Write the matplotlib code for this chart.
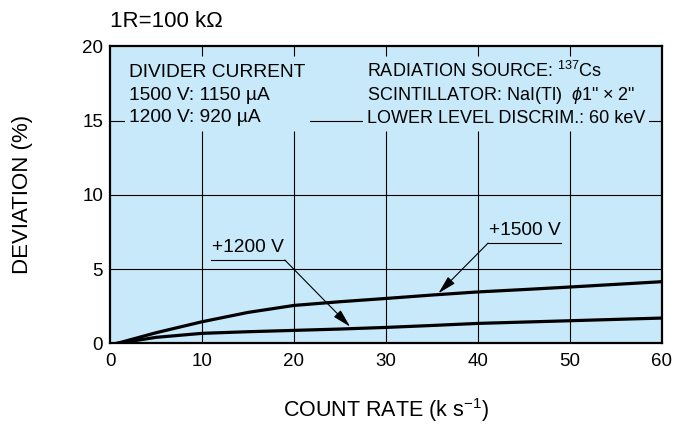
#!/usr/bin/env python3
"""
Deviation vs count rate for a PMT divider (1R = 100 kOhm), two supply voltages.
Writes out.png (673x430).
"""
import matplotlib
matplotlib.use("Agg")
import matplotlib.pyplot as plt

plt.rcParams["font.family"] = ["Liberation Sans", "DejaVu Sans"]
plt.rcParams["mathtext.fontset"] = "custom"
plt.rcParams["mathtext.rm"] = "Liberation Sans"
plt.rcParams["mathtext.it"] = "Liberation Sans:italic"

OUT = "out.png"
BG = "#c7e9f9"

# values
count_rate = [0.8, 5, 10, 15, 20, 25, 30, 35, 40, 45, 50, 55, 60]
dev_1500 = [0.0, 0.71, 1.45, 2.08, 2.55, 2.80, 3.02, 3.25, 3.46, 3.62, 3.79, 3.97, 4.15]
dev_1200 = [0.0, 0.40, 0.67, 0.78, 0.87, 0.96, 1.07, 1.20, 1.34, 1.43, 1.52, 1.61, 1.70]

x_ticks = [0, 10, 20, 30, 40, 50, 60]
y_ticks = [0, 5, 10, 15, 20]

left_note = "DIVIDER CURRENT\n1500 V: 1150 \u00b5A\n1200 V: 920 \u00b5A"
right_lines = ["RADIATION SOURCE: $^{137}$Cs",
               "SCINTILLATOR: NaI(Tl)  $\\phi$1\" \u00d7 2\"",
               "LOWER LEVEL DISCRIM.: 60 keV"]
right_baselines = [17.93, 16.38, 14.83]

FS = 13.8


def label_curve(ax, text, x0, x1, y, start, tip):
    # underlined label with a leader arrow to the curve
    ax.text((x0 + x1) / 2, y + 0.25, text, ha="center", va="bottom", fontsize=FS)
    ax.plot([x0, x1], [y, y], color="black", lw=0.8, zorder=4)
    ax.annotate("", xy=tip, xytext=start,
                arrowprops=dict(arrowstyle="-|>,head_length=0.7,head_width=0.18",
                                lw=0.8, color="black", shrinkA=0, shrinkB=0,
                                mutation_scale=16), zorder=4)


def main():
    fig = plt.figure(figsize=(6.73, 4.30), dpi=100)
    ax = fig.add_axes([110 / 673, 1 - 343.3 / 430, 552 / 673, 297 / 430])
    ax.set_facecolor(BG)
    ax.set_xlim(0, 60)
    ax.set_ylim(0, 20)

    # grid: horizontals full width, verticals stop just under the 15 line
    for y in y_ticks[1:-1]:
        ax.axhline(y, color="black", lw=0.8, zorder=1)
    ax.vlines(x_ticks[1:-1], 0, 14.3, color="black", lw=0.8, zorder=1)

    ax.plot(count_rate, dev_1500, color="black", lw=2.3, zorder=3)
    ax.plot(count_rate, dev_1200, color="black", lw=2.3, zorder=3)

    ax.set_xticks(x_ticks)
    ax.set_yticks(y_ticks)
    ax.tick_params(axis="both", length=0, labelsize=13.5)
    ax.tick_params(axis="x", pad=7)
    ax.tick_params(axis="y", pad=5)
    top = ax.secondary_xaxis("top")
    top.set_xticks(x_ticks[1:-1])
    top.tick_params(direction="in", length=7.5, width=0.8, labeltop=False)
    top.spines["top"].set_visible(False)
    for sp in ax.spines.values():
        sp.set_linewidth(1.6)
        sp.set_zorder(5)

    bbox = dict(facecolor=BG, edgecolor="none", pad=3)
    ax.text(2.1, 16.72, left_note, ha="left", va="center", fontsize=FS,
            linespacing=1.42, bbox=bbox, zorder=2)
    for i, (line, yb) in enumerate(zip(right_lines, right_baselines)):
        ax.text(27.9, yb, line, ha="left", va="baseline", fontsize=13.0,
                bbox=bbox if i == len(right_lines) - 1 else None, zorder=2)

    label_curve(ax, "+1200 V", 10.95, 19.0, 5.61, (19.0, 5.61), (26.1, 1.12))
    label_curve(ax, "+1500 V", 41.1, 49.0, 6.75, (41.1, 6.75), (35.7, 3.37))

    ax.text(0, 1.082, "1R=100 k\u03a9", transform=ax.transAxes, ha="left",
            va="center", fontsize=16)

    ax.set_xlabel("COUNT RATE (k s$^{-1}$)", fontsize=15.5, va="center")
    ax.xaxis.set_label_coords(0.5, -0.2246)
    ax.set_ylabel("DEVIATION (%)", fontsize=16, va="center")
    ax.yaxis.set_label_coords(-0.158, 0.5)

    fig.savefig(OUT, dpi=100, facecolor="white")
    print(f"Wrote {OUT}")


if __name__ == "__main__":
    main()
